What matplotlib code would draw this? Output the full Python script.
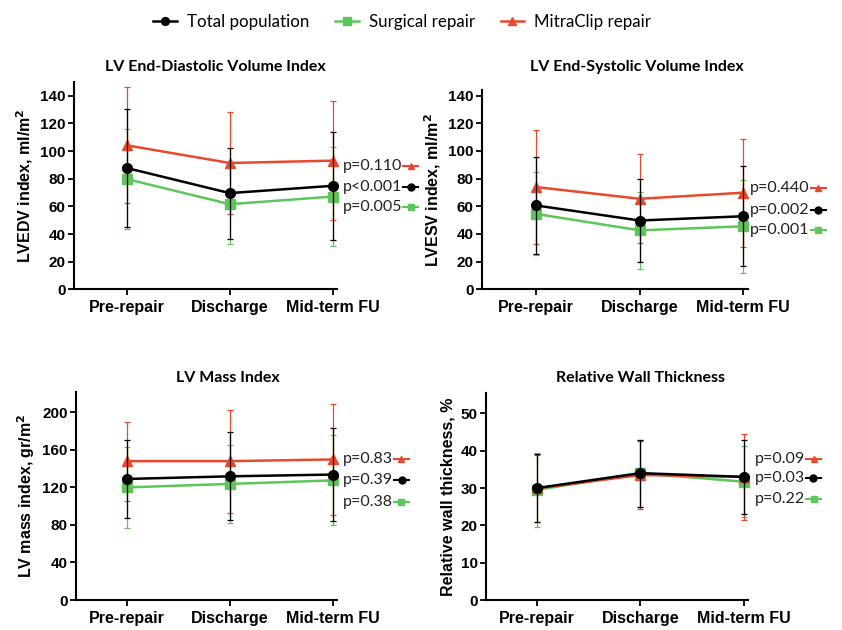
import matplotlib
matplotlib.use("Agg")
import matplotlib.pyplot as plt

# ---------------- data ----------------
timepoints = ["Pre-repair", "Discharge", "Mid-term FU"]
groups = ["Total population", "Surgical repair", "MitraClip repair"]

edv_total = [87.8, 69.6, 74.9]
edv_total_sd = [43, 33, 39]
edv_surg = [79.8, 61.6, 67.1]
edv_surg_sd = [36, 28.6, 36]
edv_mitra = [104.2, 91.4, 93.1]
edv_mitra_sd = [42, 37, 43]
edv_p = ["p<0.001", "p=0.005", "p=0.110"]

esv_total = [60.6, 49.7, 52.8]
esv_total_sd = [35, 30, 36]
esv_surg = [54.5, 42.6, 45.5]
esv_surg_sd = [30, 28, 33.5]
esv_mitra = [73.9, 65.4, 69.8]
esv_mitra_sd = [41, 32, 39]
esv_p = ["p=0.002", "p=0.001", "p=0.440"]

mass_total = [129, 131.8, 133.7]
mass_total_sd = [42, 47, 50]
mass_surg = [120, 123.7, 127.5]
mass_surg_sd = [43, 42, 48]
mass_mitra = [148, 148, 149.8]
mass_mitra_sd = [42, 55, 59]
mass_p = ["p=0.39", "p=0.38", "p=0.83"]

rwt_total = [30, 34, 33]
rwt_total_sd = [9, 9, 10]
rwt_surg = [29.5, 34, 31.7]
rwt_surg_sd = [10, 9, 9.5]
rwt_mitra = [29.9, 33.5, 33]
rwt_mitra_sd = [9, 9, 11.5]
rwt_p = ["p=0.03", "p=0.22", "p=0.09"]

# ---------------- style ----------------
C_TOT = "#000000"
C_SUR = "#5cc65c"
C_MIT = "#e8482c"
TXT = "Lato"
AX = "Liberation Sans"

fig = plt.figure(figsize=(8.42, 6.3), dpi=100)
W, H = 842, 630


def make_ax(l, r, t, b):
    return fig.add_axes([l / W, 1 - b / H, (r - l) / W, (b - t) / H])


panels = [
    dict(rect=(74, 337, 82, 289.3), xlim=(-0.51, 2.04), ylim=(0, 150),
         yticks=[0, 20, 40, 60, 80, 100, 120, 140],
         title="LV End-Diastolic Volume Index", tx=215,
         ylabel=r"LVEDV index, ml/m$^\mathbf{2}$",
         data=(edv_total, edv_total_sd, edv_surg, edv_surg_sd, edv_mitra, edv_mitra_sd),
         p=edv_p, px=2.097, py=(74.2, 59.7, 89.2), ty=67),
    dict(rect=(482, 748, 90, 289.3), xlim=(-0.52, 2.045), ylim=(0, 144),
         yticks=[0, 20, 40, 60, 80, 100, 120, 140],
         title="LV End-Systolic Volume Index", tx=637,
         ylabel=r"LVESV index, ml/m$^\mathbf{2}$",
         data=(esv_total, esv_total_sd, esv_surg, esv_surg_sd, esv_mitra, esv_mitra_sd),
         p=esv_p, px=2.065, py=(57.3, 42.9, 73.0), ty=67),
    dict(rect=(76, 337, 391.7, 600), xlim=(-0.49, 2.04), ylim=(0, 222),
         yticks=[0, 40, 80, 120, 160, 200],
         title="LV Mass Index", tx=228,
         ylabel=r"LV mass index, gr/m$^\mathbf{2}$",
         data=(mass_total, mass_total_sd, mass_surg, mass_surg_sd, mass_mitra, mass_mitra_sd),
         p=mass_p, px=2.097, py=(128, 104.7, 150.1), ty=378),
    dict(rect=(486, 748, 393.3, 600), xlim=(-0.49, 2.04), ylim=(0, 55.4),
         yticks=[0, 10, 20, 30, 40, 50],
         title="Relative Wall Thickness", tx=640,
         ylabel="Relative wall thickness, %",
         data=(rwt_total, rwt_total_sd, rwt_surg, rwt_surg_sd, rwt_mitra, rwt_mitra_sd),
         p=rwt_p, px=2.106, py=(32.6, 27.0, 37.9), ty=378),
]

fig.canvas.draw()
renderer = fig.canvas.get_renderer()
legend_handles = None

for pd_ in panels:
    l, r, t, b = pd_["rect"]
    ax = make_ax(l, r, t, b)
    x = list(range(len(timepoints)))
    tot, tot_sd, sur, sur_sd, mit, mit_sd = pd_["data"]
    specs = [
        (sur, sur_sd, C_SUR, "s", 6.5, groups[1], 2),
        (mit, mit_sd, C_MIT, "^", 7, groups[2], 3),
        (tot, tot_sd, C_TOT, "o", 7, groups[0], 4),
    ]
    handles = {}
    for vals, sd, col, mk, ms, lab, z in specs:
        eb = ax.errorbar(x, vals, yerr=sd, color=col, marker=mk, ms=ms, lw=1.8,
                         elinewidth=0.9, capsize=2, capthick=0.9, label=lab,
                         zorder=z, clip_on=False)
        handles[lab] = eb[0]
    if legend_handles is None:
        legend_handles = [handles[g] for g in groups]

    ax.set_xlim(*pd_["xlim"])
    ax.set_ylim(*pd_["ylim"])
    ax.set_xticks(x)
    ax.set_xticklabels(timepoints, fontfamily=AX, fontweight="bold", fontsize=11.5)
    ax.set_yticks(pd_["yticks"])
    ax.set_yticklabels([str(v) for v in pd_["yticks"]], fontfamily=AX,
                       fontweight="bold", fontsize=11)
    for s in ("top", "right"):
        ax.spines[s].set_visible(False)
    for s in ("left", "bottom"):
        ax.spines[s].set_linewidth(1.5)
    ax.tick_params(axis="both", width=1.3, length=4, pad=2)
    ax.tick_params(axis="x", pad=4)
    ax.set_ylabel(pd_["ylabel"], fontfamily=AX, fontweight="bold", fontsize=11.5,
                  labelpad=4)

    fig.text(pd_["tx"] / W, 1 - pd_["ty"] / H, pd_["title"], fontfamily=TXT,
             fontweight="bold", fontsize=11.5, ha="center", va="center")

    cols = [C_TOT, C_SUR, C_MIT]
    mks = ["o", "s", "^"]
    for ptxt, py, col, mk in zip(pd_["p"], pd_["py"], cols, mks):
        t_ = ax.text(pd_["px"], py, ptxt, fontfamily=TXT, fontsize=11.5,
                     ha="left", va="center", color="#222222", clip_on=False)
        bb = t_.get_window_extent(renderer=renderer)
        inv = ax.transData.inverted()
        x0 = inv.transform((bb.x1 + 1, 0))[0]
        x1 = inv.transform((bb.x1 + 16, 0))[0]
        ax.plot([x0, x1], [py, py], color=col, lw=1.5, clip_on=False)
        ax.plot([(x0 + x1) / 2], [py], color=col, marker=mk, ms=5, clip_on=False)

fig.legend(legend_handles, groups, loc="center", bbox_to_anchor=(0.478, 1 - 22 / H),
           ncol=3, frameon=False, prop={"family": TXT, "size": 12.2},
           handlelength=1.4, columnspacing=1.5, handletextpad=0.6, markerscale=0.8)

fig.savefig("out.png", dpi=100, facecolor="white")
